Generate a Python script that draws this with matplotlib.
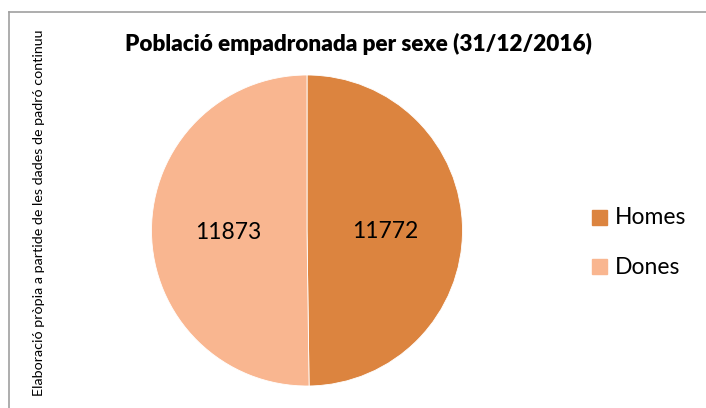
import numpy as np
import matplotlib.pyplot as plt
from matplotlib.patches import Rectangle
from matplotlib.lines import Line2D

plt.rcParams['font.family'] = ['Lato', 'DejaVu Sans']

# ------------------------------ #
categories = ['Homes', 'Dones']
values = [11772, 11873]
colors = ['#DC843F', '#F9B690']
titleText = 'Població empadronada per sexe (31/12/2016)'
sourceText = 'Elaboració pròpia a partide de les dades de padró continuu'
# ------------------------------ #

fig = plt.figure(figsize=(7.06, 4.08), dpi=100)

# outer chart frame (right and bottom edges fall outside the picture)
fig.add_artist(Line2D([9 / 706, 9 / 706], [0, 1 - 12 / 408], color='#A0A0A0', lw=1.2))
fig.add_artist(Line2D([9 / 706, 1], [1 - 12 / 408, 1 - 12 / 408], color='#A0A0A0', lw=1.2))

# pie axes: centre (307, 230.5), radius ~155 px
r = 155.5
cx, cy = 307, 230.5
ax = fig.add_axes([(cx - r) / 706, (408 - cy - r) / 408, 2 * r / 706, 2 * r / 408])
wedges, _ = ax.pie(
	values,
	colors=colors,
	startangle=90,
	counterclock=False,
	radius=1,
	wedgeprops=dict(edgecolor='white', linewidth=0.6),
)
ax.set_xlim(-1, 1)
ax.set_ylim(-1, 1)
ax.set_aspect('auto')
ax.axis('off')

# data labels
for w, v in zip(wedges, values):
	ang = np.deg2rad((w.theta1 + w.theta2) / 2)
	ax.text(0.505 * np.cos(ang), 0.505 * np.sin(ang) - 0.01, f'{v}', ha='center', va='center',
		fontsize=16.5, color='black')

fig.text(358 / 706, 1 - 44 / 408, titleText, ha='center', va='center', fontsize=16.2,
	fontweight='heavy', color='black')

fig.text(39 / 706, 1 - 213 / 408, sourceText, rotation=90, ha='center', va='center',
	fontsize=10.3, color='black')

# legend
legY = [218, 267]
for name, col, y in zip(categories, colors, legY):
	fig.add_artist(Rectangle((592 / 706, 1 - (y + 7) / 408), 15 / 706, 15 / 408, color=col,
		transform=fig.transFigure))
	fig.text(615 / 706, 1 - y / 408, name, ha='left', va='center', fontsize=16.5, color='black')

fig.savefig('out.png', dpi=100)
